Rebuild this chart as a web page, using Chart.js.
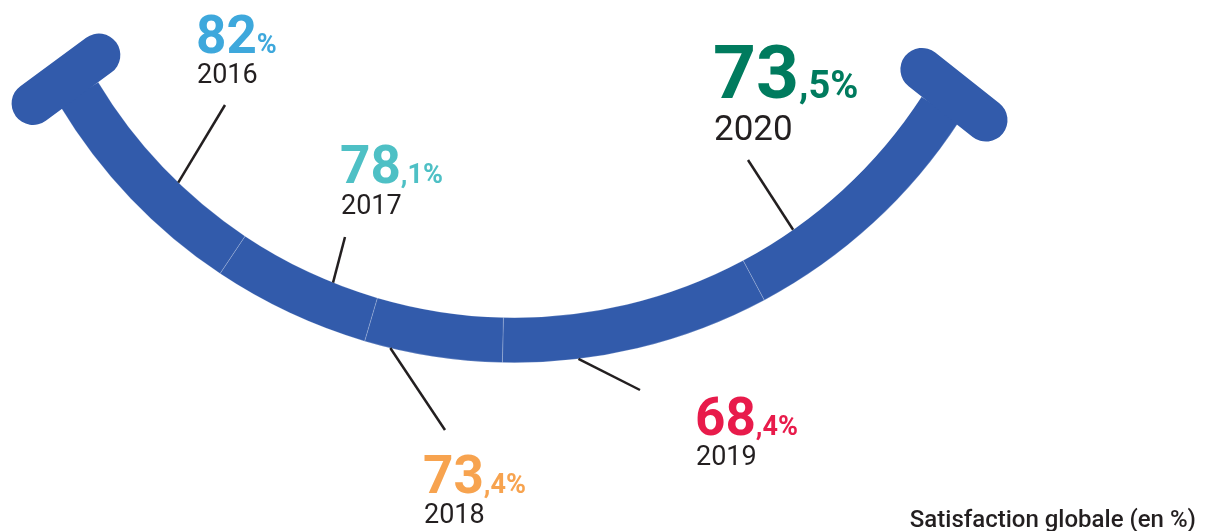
<!DOCTYPE html>
<html lang="fr">
<head>
<meta charset="utf-8">
<script src="https://cdn.jsdelivr.net/npm/chart.js@4.4.1/dist/chart.umd.min.js"></script>
<style>
  html, body { margin: 0; padding: 0; background: #fff; }
  #wrap { width: 1210px; height: 531px; position: relative; }
</style>
</head>
<body>
<div id="wrap"><canvas id="smile"></canvas></div>
<script>
// Satisfaction globale (en %), 2016 -> 2020
const years = ['2016', '2017', '2018', '2019', '2020'];
const satisfaction = [82, 78.1, 73.4, 68.4, 73.5];
// how much of the smile each year takes (degrees of arc)
const arcShare = [25.3, 17.3, 15.1, 29.4, 28.9];
const valueColors = ['#3ea8dc', '#4ec0c5', '#f7a34f', '#e81b4b', '#007b5e'];

const bandColor = '#325bab';
const inkColor = '#231f20';

// label layout: where each year's figure sits and where its leader line goes
const labelLayout = [
    { x: 196, y: 53,  big: 53, small: 27, year: 27, yearGap: 30, f: 0.40, edge: 'inner', to: [225, 105] },
    { x: 340, y: 183, big: 53, small: 27, year: 27, yearGap: 31, f: 0.32, edge: 'inner', to: [345, 237] },
    { x: 423, y: 493, big: 53, small: 27, year: 27, yearGap: 30, f: 0.81, edge: 'outer', to: [445, 430] },
    { x: 695, y: 435, big: 53, small: 27, year: 27, yearGap: 30, f: 0.72, edge: 'outer', to: [640, 390] },
    { x: 713, y: 98,  big: 75, small: 38, year: 35, yearGap: 42, f: 0.76, edge: 'inner', to: [748, 160] }
];

// doughnut runs clockwise from the right end, so feed it 2020 first
const order = years.map((_, i) => years.length - 1 - i);

const toRad = d => d * Math.PI / 180;
const polar = (el, a, r) => [el.x + Math.cos(a) * r, el.y + Math.sin(a) * r];

const smilePlugin = {
    id: 'smile',
    afterDatasetsDraw(chart) {
        const ctx = chart.ctx;
        const arcs = chart.getDatasetMeta(0).data;
        const first = arcs[0];
        const last = arcs[arcs.length - 1];

        // rounded caps across both ends of the band
        ctx.save();
        ctx.strokeStyle = bandColor;
        ctx.lineWidth = 43;
        ctx.lineCap = 'round';
        const caps = [
            [first, first.startAngle, -1],
            [last, last.endAngle, 1]
        ];
        caps.forEach(([el, a, dir]) => {
            const p1 = polar(el, a + dir * toRad(2.8), el.innerRadius - 14);
            const p2 = polar(el, a + dir * toRad(1.6), el.outerRadius + 22);
            ctx.beginPath();
            ctx.moveTo(p1[0], p1[1]);
            ctx.lineTo(p2[0], p2[1]);
            ctx.stroke();
        });
        ctx.restore();

        // leader lines and figures
        ctx.save();
        years.forEach((year, i) => {
            const el = arcs[years.length - 1 - i];
            const lay = labelLayout[i];
            const a = el.startAngle + lay.f * (el.endAngle - el.startAngle);
            const r = lay.edge === 'inner' ? el.innerRadius : el.outerRadius;
            const p = polar(el, a, r);
            ctx.strokeStyle = inkColor;
            ctx.lineWidth = 2.5;
            ctx.beginPath();
            ctx.moveTo(p[0], p[1]);
            ctx.lineTo(lay.to[0], lay.to[1]);
            ctx.stroke();

            const parts = String(satisfaction[i]).split('.');
            const rest = (parts[1] ? ',' + parts[1] : '') + '%';
            ctx.textBaseline = 'alphabetic';
            ctx.textAlign = 'left';
            ctx.fillStyle = valueColors[i];
            ctx.font = `700 ${lay.big}px Roboto`;
            ctx.fillText(parts[0], lay.x, lay.y);
            const w = ctx.measureText(parts[0]).width;
            ctx.font = `700 ${lay.small}px Roboto`;
            ctx.fillText(rest, lay.x + w, lay.y);

            ctx.fillStyle = inkColor;
            ctx.font = `400 ${lay.year}px Roboto`;
            ctx.fillText(year, lay.x + 1, lay.y + lay.yearGap);
        });

        ctx.fillStyle = inkColor;
        ctx.font = '500 24px Roboto';
        ctx.textAlign = 'right';
        ctx.fillText('Satisfaction globale (en %)', 1196, 527);
        ctx.restore();
    }
};

new Chart(document.getElementById('smile'), {
    type: 'doughnut',
    data: {
        labels: order.map(i => years[i]),
        datasets: [{
            data: order.map(i => arcShare[i]),
            backgroundColor: bandColor,
            borderColor: 'rgba(255,255,255,0.2)',
            borderWidth: 1
        }]
    },
    options: {
        responsive: true,
        maintainAspectRatio: false,
        animation: false,
        events: [],
        rotation: 123,
        circumference: 116,
        radius: 530.5,
        cutout: '91.52%',
        layout: { padding: { left: 0, right: 191, top: 0, bottom: 86 } },
        plugins: {
            legend: { display: false },
            tooltip: { enabled: false }
        }
    },
    plugins: [smilePlugin]
});
</script>
</body>
</html>
